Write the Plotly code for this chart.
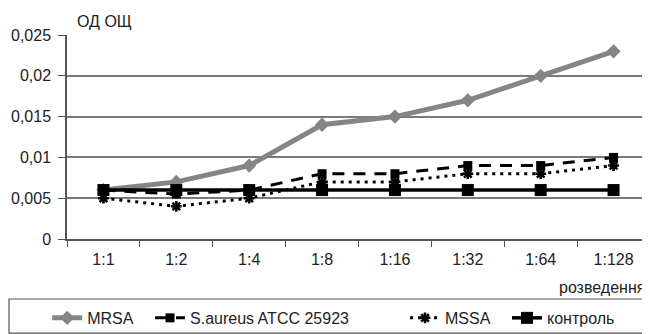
import plotly.graph_objects as go

categories = ["1:1", "1:2", "1:4", "1:8", "1:16", "1:32", "1:64", "1:128"]
mrsa = [0.006, 0.007, 0.009, 0.014, 0.015, 0.017, 0.020, 0.023]
saureus = [0.006, 0.0055, 0.006, 0.008, 0.008, 0.009, 0.009, 0.010]
mssa = [0.005, 0.004, 0.005, 0.007, 0.007, 0.008, 0.008, 0.009]
control = [0.006, 0.006, 0.006, 0.006, 0.006, 0.006, 0.006, 0.006]
ytick_vals = [0, 0.005, 0.01, 0.015, 0.02, 0.025]
ytick_text = ["0", "0,005", "0,01", "0,015", "0,02", "0,025"]

FS = 16
fig = go.Figure()
fig.add_trace(go.Scatter(x=categories, y=mrsa, name="MRSA", mode="lines+markers",
                         line=dict(color="#858585", width=5),
                         marker=dict(symbol="diamond", size=11, color="#858585"),
                         legend="legend"))
fig.add_trace(go.Scatter(x=categories, y=saureus, name="S.aureus ATCC 25923", mode="lines+markers",
                         line=dict(color="black", width=3, dash="12px,9px"),
                         marker=dict(symbol="square", size=9, color="black"),
                         legend="legend2"))
fig.add_trace(go.Scatter(x=categories, y=mssa, name="MSSA", mode="lines+markers",
                         line=dict(color="black", width=3, dash="3px,5px"),
                         marker=dict(symbol="asterisk", size=9, color="black",
                                     line=dict(color="black", width=2.5)),
                         legend="legend3"))
fig.add_trace(go.Scatter(x=categories, y=control, name="контроль", mode="lines+markers",
                         line=dict(color="black", width=3.5),
                         marker=dict(symbol="square", size=12, color="black"),
                         legend="legend4"))

leg_common = dict(orientation="h", yanchor="middle", y=-0.387, xanchor="left",
                  bgcolor="rgba(0,0,0,0)", borderwidth=0, font=dict(size=FS, color="#222"))

fig.update_layout(
    width=642, height=326,
    margin=dict(l=59, r=0, t=27, b=95, autoexpand=False),
    paper_bgcolor="white", plot_bgcolor="white",
    font=dict(family="Liberation Sans, Arial, sans-serif", size=FS, color="#222"),
    showlegend=True,
    legend=dict(x=-0.034, **leg_common),
    legend2=dict(x=0.1424, **leg_common),
    legend3=dict(x=0.5798, **leg_common),
    legend4=dict(x=0.7547, **leg_common),
    xaxis=dict(type="category", showgrid=False, showline=True, linecolor="#555",
               linewidth=1.5, ticks="outside", tickson="boundaries", ticklen=6,
               tickcolor="#555", range=[-0.5, 7.5], tickfont=dict(size=FS), tickangle=0,
               ticklabelstandoff=5),
    yaxis=dict(range=[0, 0.025], tickvals=ytick_vals, ticktext=ytick_text,
               showgrid=True, gridcolor="#7a7a7a", gridwidth=1.5, showline=True,
               linecolor="#555", linewidth=1.5, ticks="outside", ticklen=7,
               tickcolor="#555", zeroline=False, tickfont=dict(size=FS),
               ticklabelstandoff=4),
    shapes=[dict(type="rect", xref="paper", yref="paper", x0=-0.0995, x1=0.991,
                 y0=-0.461, y1=-0.294, line=dict(color="#555", width=1.2),
                 fillcolor="rgba(0,0,0,0)", layer="below")],
    annotations=[
        dict(text="ОД ОЩ", xref="paper", yref="paper", x=0.014, y=1.064,
             xanchor="left", yanchor="middle", showarrow=False, font=dict(size=FS)),
        dict(text="розведення", xref="paper", yref="paper", x=0.995, y=-0.24,
             xanchor="right", yanchor="middle", showarrow=False, font=dict(size=FS)),
    ],
)
fig.write_html("out.html")
